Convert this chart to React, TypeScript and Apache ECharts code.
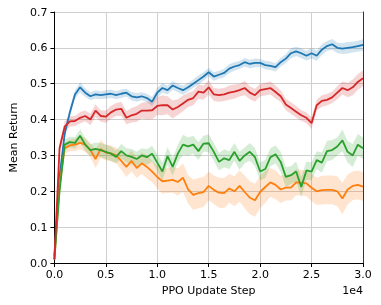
import React, { useEffect, useRef } from "react";
import * as echarts from "echarts";

const STEP = 500;
const steps: number[] = Array.from({ length: 61 }, (_, i) => i * STEP);

const blue = [0.02,0.24,0.36,0.42,0.47,0.49,0.475,0.465,0.47,0.468,0.47,0.472,0.468,0.472,0.475,0.465,0.462,0.465,0.46,0.45,0.475,0.488,0.482,0.495,0.488,0.482,0.49,0.5,0.51,0.52,0.532,0.52,0.525,0.53,0.542,0.548,0.552,0.56,0.555,0.558,0.558,0.552,0.55,0.546,0.56,0.57,0.585,0.59,0.585,0.578,0.585,0.578,0.595,0.605,0.61,0.6,0.598,0.6,0.602,0.605,0.608];
const red = [0.01,0.32,0.38,0.395,0.396,0.405,0.41,0.4,0.425,0.41,0.408,0.42,0.428,0.43,0.405,0.412,0.416,0.425,0.425,0.426,0.438,0.44,0.44,0.428,0.435,0.445,0.455,0.46,0.478,0.475,0.49,0.47,0.468,0.47,0.475,0.478,0.482,0.488,0.475,0.468,0.482,0.485,0.488,0.477,0.465,0.442,0.432,0.422,0.412,0.405,0.39,0.44,0.452,0.455,0.462,0.475,0.488,0.482,0.49,0.505,0.515];
const green = [0.01,0.2,0.33,0.337,0.335,0.355,0.33,0.315,0.318,0.315,0.31,0.305,0.296,0.312,0.3,0.296,0.29,0.3,0.295,0.305,0.28,0.255,0.298,0.268,0.305,0.33,0.325,0.33,0.312,0.333,0.334,0.31,0.282,0.292,0.287,0.31,0.285,0.3,0.31,0.295,0.255,0.262,0.295,0.303,0.282,0.24,0.245,0.255,0.212,0.258,0.255,0.287,0.28,0.312,0.315,0.325,0.342,0.31,0.3,0.33,0.32];
const orange = [0.01,0.22,0.32,0.328,0.33,0.335,0.33,0.315,0.29,0.318,0.308,0.306,0.3,0.285,0.268,0.285,0.265,0.278,0.268,0.255,0.24,0.228,0.23,0.232,0.226,0.238,0.205,0.19,0.195,0.198,0.215,0.204,0.196,0.195,0.208,0.2,0.215,0.198,0.182,0.175,0.198,0.212,0.225,0.218,0.205,0.21,0.21,0.225,0.224,0.222,0.21,0.2,0.203,0.204,0.204,0.2,0.18,0.205,0.215,0.218,0.213];

const blueSd = [0.003,0.01,0.012,0.012,0.012,0.014,0.012,0.011,0.012,0.011,0.012,0.012,0.011,0.012,0.011,0.012,0.012,0.011,0.012,0.013,0.014,0.013,0.012,0.012,0.012,0.013,0.012,0.012,0.013,0.012,0.012,0.012,0.011,0.012,0.012,0.012,0.011,0.012,0.012,0.012,0.011,0.012,0.012,0.012,0.012,0.013,0.014,0.013,0.014,0.013,0.015,0.014,0.015,0.014,0.015,0.014,0.015,0.016,0.015,0.015,0.016];
const redSd = [0.003,0.015,0.015,0.015,0.014,0.016,0.015,0.016,0.018,0.016,0.017,0.018,0.018,0.02,0.018,0.02,0.022,0.022,0.025,0.025,0.025,0.028,0.025,0.025,0.022,0.022,0.02,0.02,0.02,0.02,0.02,0.018,0.018,0.018,0.02,0.02,0.018,0.02,0.018,0.018,0.018,0.018,0.018,0.018,0.016,0.016,0.016,0.016,0.015,0.015,0.016,0.015,0.016,0.016,0.016,0.018,0.018,0.02,0.022,0.022,0.022];
const greenSd = [0.003,0.015,0.015,0.015,0.016,0.018,0.018,0.016,0.018,0.02,0.02,0.02,0.018,0.02,0.02,0.022,0.02,0.02,0.022,0.022,0.024,0.025,0.025,0.025,0.025,0.028,0.025,0.025,0.025,0.022,0.025,0.025,0.024,0.025,0.025,0.025,0.025,0.022,0.025,0.025,0.025,0.025,0.025,0.025,0.028,0.028,0.025,0.028,0.028,0.025,0.025,0.025,0.028,0.028,0.028,0.025,0.03,0.03,0.032,0.03,0.03];
const orangeSd = [0.003,0.015,0.015,0.016,0.018,0.018,0.02,0.02,0.025,0.025,0.022,0.022,0.022,0.025,0.028,0.03,0.028,0.03,0.032,0.03,0.032,0.035,0.035,0.036,0.038,0.04,0.04,0.042,0.042,0.042,0.04,0.04,0.042,0.042,0.04,0.042,0.044,0.045,0.046,0.046,0.045,0.044,0.04,0.04,0.038,0.036,0.036,0.036,0.036,0.036,0.038,0.038,0.04,0.04,0.04,0.042,0.044,0.042,0.04,0.04,0.04];

const xTicks = [0, 5000, 10000, 15000, 20000, 25000, 30000];
const yTicks = [0, 0.1, 0.2, 0.3, 0.4, 0.5, 0.6, 0.7];

const seriesDefs = [
  { name: "blue", color: "#1f77b4", mean: blue, sd: blueSd },
  { name: "orange", color: "#ff7f0e", mean: orange, sd: orangeSd },
  { name: "green", color: "#2ca02c", mean: green, sd: greenSd },
  { name: "red", color: "#d62728", mean: red, sd: redSd },
];

const FONT = "DejaVu Sans";

export default function App() {
  const ref = useRef<HTMLDivElement>(null);
  useEffect(() => {
    if (!ref.current) return;
    const chart = echarts.init(ref.current, undefined, { renderer: "svg" });
    const bands: any[] = seriesDefs.map((d) => ({
      type: "custom",
      name: d.name + "-band",
      silent: true,
      z: 1,
      data: steps.map((s, i) => [s, d.mean[i] - d.sd[i], d.mean[i] + d.sd[i]]),
      encode: { x: 0, y: [1, 2] },
      renderItem: (params: any, api: any) => {
        if (params.dataIndex !== 0) return null;
        const up = steps.map((s, i) => api.coord([s, d.mean[i] + d.sd[i]]));
        const lo = steps.map((s, i) => api.coord([s, d.mean[i] - d.sd[i]])).reverse();
        return {
          type: "polygon",
          shape: { points: up.concat(lo) },
          style: { fill: d.color, opacity: 0.2 },
        };
      },
    }));
    const lines: any[] = seriesDefs.map((d) => ({
      type: "line",
      name: d.name,
      z: 3,
      showSymbol: false,
      data: steps.map((s, i) => [s, d.mean[i]]),
      lineStyle: { color: d.color, width: 1.8 },
      itemStyle: { color: d.color },
    }));
    chart.setOption({
      animation: false,
      grid: { left: 49, right: 18, top: 12, bottom: 42 },
      xAxis: {
        type: "value",
        min: 0,
        max: 30000,
        interval: 5000,
        name: "PPO Update Step",
        nameLocation: "middle",
        nameGap: 22,
        nameTextStyle: { fontFamily: FONT, fontSize: 11, color: "#000" },
        axisLine: { show: true, lineStyle: { color: "#000", width: 1 } },
        axisTick: { show: true, inside: false, length: 4, lineStyle: { color: "#000" } },
        axisLabel: {
          fontFamily: FONT,
          fontSize: 11,
          color: "#000",
          margin: 6,
          formatter: (v: number) => (xTicks.includes(v) ? (v / 10000).toFixed(1) : ""),
        },
        splitLine: { show: true, lineStyle: { color: "#cfcfcf", width: 1 } },
      },
      yAxis: [
        {
          type: "value",
          min: 0,
          max: 0.7,
          interval: 0.1,
          name: "Mean Return",
          nameLocation: "middle",
          nameGap: 31,
          nameTextStyle: { fontFamily: FONT, fontSize: 11, color: "#000" },
          axisLine: { show: true, lineStyle: { color: "#000", width: 1 } },
          axisTick: { show: true, inside: false, length: 4, lineStyle: { color: "#000" } },
          axisLabel: {
            fontFamily: FONT,
            fontSize: 11,
            color: "#000",
            margin: 7,
            formatter: (v: number) => {
              const t = yTicks.find((y) => Math.abs(y - v) < 1e-9);
              return t === undefined ? "" : t.toFixed(1);
            },
          },
          splitLine: { show: true, lineStyle: { color: "#cfcfcf", width: 1 } },
        },
        {
          type: "value",
          position: "right",
          min: 0,
          max: 0.7,
          interval: 0.1,
          axisLine: { show: true, lineStyle: { color: "#333", width: 1 } },
          axisTick: { show: false },
          axisLabel: { show: false },
          splitLine: { show: false },
        },
      ],
      graphic: [
        {
          type: "text",
          right: 18,
          top: 285,
          style: { text: "1e4", fontFamily: FONT, fontSize: 11, fill: "#000" },
        },
      ],
      series: [...bands, ...lines],
    });
    return () => chart.dispose();
  }, []);
  return (
    <div
      ref={ref}
      style={{ position: "fixed", left: 0, top: 0, width: 381, height: 305 }}
    />
  );
}
